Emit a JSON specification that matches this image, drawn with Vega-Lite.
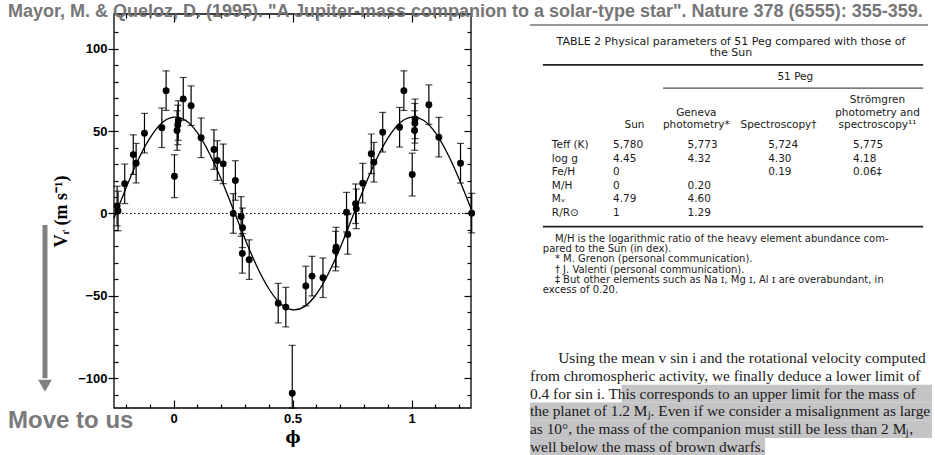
{
  "$schema": "https://vega.github.io/schema/vega-lite/v6.json",
  "autosize": {"type": "none"},
  "width": 821,
  "height": 441,
  "padding": {"left": 114, "top": 14, "right": 0, "bottom": 0},
  "background": "white",
  "title": {
    "text": "Mayor, M. & Queloz, D. (1995). \"A Jupiter-mass companion to a solar-type star\". Nature 378 (6555): 355-359.",
    "anchor": "start",
    "frame": "group",
    "font": "Liberation Sans",
    "fontWeight": "bold",
    "fontSize": 18,
    "color": "#767676",
    "dx": -106,
    "offset": -22,
    "baseline": "alphabetic"
  },
  "config": {
    "view": {"stroke": null},
    "axis": {"grid": false, "labelOverlap": false, "domain": false, "tickColor": "black", "tickWidth": 1.2},
    "font": "Liberation Sans"
  },
  "datasets": {
    "velocities": [
      {"phi": -0.237, "v": 4.5, "err": 12},
      {"phi": -0.233, "v": 1.5, "err": 12},
      {"phi": -0.205, "v": 18, "err": 12},
      {"phi": -0.169, "v": 35.7, "err": 12},
      {"phi": -0.157, "v": 30.5, "err": 12},
      {"phi": -0.122, "v": 48.7, "err": 12},
      {"phi": -0.049, "v": 52, "err": 12},
      {"phi": -0.031, "v": 74.5, "err": 12},
      {"phi": 0.004, "v": 22.6, "err": 13},
      {"phi": 0.015, "v": 50.3, "err": 12},
      {"phi": 0.018, "v": 53.7, "err": 12},
      {"phi": 0.02, "v": 56.4, "err": 12},
      {"phi": 0.041, "v": 69.5, "err": 13},
      {"phi": 0.074, "v": 65.4, "err": 12},
      {"phi": 0.116, "v": 45.9, "err": 12},
      {"phi": 0.17, "v": 38.8, "err": 12},
      {"phi": 0.184, "v": 32.1, "err": 12},
      {"phi": 0.209, "v": 30.1, "err": 12},
      {"phi": 0.251, "v": 0, "err": 12},
      {"phi": 0.26, "v": 20, "err": 12},
      {"phi": 0.284, "v": -1.8, "err": 12},
      {"phi": 0.29, "v": -8.7, "err": 12},
      {"phi": 0.289, "v": -24.2, "err": 12},
      {"phi": 0.318, "v": -28, "err": 12},
      {"phi": 0.44, "v": -54.4, "err": 12},
      {"phi": 0.472, "v": -56.8, "err": 12},
      {"phi": 0.499, "v": -109, "err": 29},
      {"phi": 0.556, "v": -44, "err": 12},
      {"phi": 0.582, "v": -38, "err": 12},
      {"phi": 0.628, "v": -39, "err": 12},
      {"phi": 0.681, "v": -22.8, "err": 12},
      {"phi": 0.683, "v": -20.4, "err": 12},
      {"phi": 0.727, "v": 0.8, "err": 12},
      {"phi": 0.732, "v": -12.7, "err": 12},
      {"phi": 0.765, "v": 5.9, "err": 12},
      {"phi": 0.768, "v": 2.8, "err": 12},
      {"phi": 0.795, "v": 18.4, "err": 12},
      {"phi": 0.831, "v": 36.2, "err": 12},
      {"phi": 0.842, "v": 31.1, "err": 12},
      {"phi": 0.879, "v": 49.3, "err": 12},
      {"phi": 0.95, "v": 52.3, "err": 12},
      {"phi": 0.968, "v": 74.5, "err": 12},
      {"phi": 1.003, "v": 23.6, "err": 13},
      {"phi": 1.013, "v": 50.3, "err": 12},
      {"phi": 1.014, "v": 54.7, "err": 12},
      {"phi": 1.015, "v": 57.4, "err": 12},
      {"phi": 1.073, "v": 66, "err": 12},
      {"phi": 1.115, "v": 46.3, "err": 12},
      {"phi": 1.206, "v": 30.5, "err": 12},
      {"phi": 1.253, "v": 0.2, "err": 12}
    ],
    "orbit": [
      {"phi": -0.25, "v": -2.9}, {"phi": -0.2, "v": 15.3}, {"phi": -0.15, "v": 32},
      {"phi": -0.1, "v": 45.5}, {"phi": -0.05, "v": 54.7}, {"phi": 0, "v": 58.4},
      {"phi": 0.05, "v": 56.5}, {"phi": 0.1, "v": 49}, {"phi": 0.15, "v": 36.7},
      {"phi": 0.2, "v": 20.9}, {"phi": 0.25, "v": 2.9}, {"phi": 0.3, "v": -15.3},
      {"phi": 0.35, "v": -32}, {"phi": 0.4, "v": -45.5}, {"phi": 0.45, "v": -54.7},
      {"phi": 0.5, "v": -58.4}, {"phi": 0.55, "v": -56.5}, {"phi": 0.6, "v": -49},
      {"phi": 0.65, "v": -36.7}, {"phi": 0.7, "v": -20.9}, {"phi": 0.75, "v": -2.9},
      {"phi": 0.8, "v": 15.3}, {"phi": 0.85, "v": 32}, {"phi": 0.9, "v": 45.5},
      {"phi": 0.95, "v": 54.7}, {"phi": 1, "v": 58.4}, {"phi": 1.05, "v": 56.5},
      {"phi": 1.1, "v": 49}, {"phi": 1.15, "v": 36.7}, {"phi": 1.2, "v": 20.9},
      {"phi": 1.25, "v": 2.9}
    ],
    "caption": [
      {"line": 1, "text": "TABLE 2  Physical parameters of 51 Peg compared with those of"},
      {"line": 2, "text": "the Sun"}
    ],
    "headers": [
      {"line": 1, "col": 4, "text": "Strömgren"},
      {"line": 2, "col": 2, "text": "Geneva"},
      {"line": 2, "col": 4, "text": "photometry and"},
      {"line": 3, "col": 1, "text": "Sun"},
      {"line": 3, "col": 2, "text": "photometry*"},
      {"line": 3, "col": 3, "text": "Spectroscopy†"},
      {"line": 3, "col": 4, "text": "spectroscopy¹¹"}
    ],
    "cells": [
      {"row": 1, "col": 0, "text": "Teff (K)"},
      {"row": 1, "col": 1, "text": "5,780"},
      {"row": 1, "col": 2, "text": "5,773"},
      {"row": 1, "col": 3, "text": "5,724"},
      {"row": 1, "col": 4, "text": "5,775"},
      {"row": 2, "col": 0, "text": "log g"},
      {"row": 2, "col": 1, "text": "4.45"},
      {"row": 2, "col": 2, "text": "4.32"},
      {"row": 2, "col": 3, "text": "4.30"},
      {"row": 2, "col": 4, "text": "4.18"},
      {"row": 3, "col": 0, "text": "Fe/H"},
      {"row": 3, "col": 1, "text": "0"},
      {"row": 3, "col": 3, "text": "0.19"},
      {"row": 3, "col": 4, "text": "0.06‡"},
      {"row": 4, "col": 0, "text": "M/H"},
      {"row": 4, "col": 1, "text": "0"},
      {"row": 4, "col": 2, "text": "0.20"},
      {"row": 5, "col": 0, "text": "Mᵥ"},
      {"row": 5, "col": 1, "text": "4.79"},
      {"row": 5, "col": 2, "text": "4.60"},
      {"row": 6, "col": 0, "text": "R/R⊙"},
      {"row": 6, "col": 1, "text": "1"},
      {"row": 6, "col": 2, "text": "1.29"}
    ],
    "notes": [
      {"line": 1, "first": true, "text": "M/H is the logarithmic ratio of the heavy element abundance com-"},
      {"line": 2, "first": false, "text": "pared to the Sun (in dex)."},
      {"line": 3, "first": true, "text": "* M. Grenon (personal communication)."},
      {"line": 4, "first": true, "text": "† J. Valenti (personal communication)."},
      {"line": 5, "first": true, "text": "‡ But other elements such as Na ɪ, Mg ɪ, Al ɪ are overabundant, in"},
      {"line": 6, "first": false, "text": "excess of 0.20."}
    ],
    "paragraph": [
      {"line": 1, "first": true, "text": "Using the mean v sin i and the rotational velocity computed"},
      {"line": 2, "first": false, "text": "from chromospheric activity, we finally deduce a lower limit of"},
      {"line": 3, "first": false, "text": "0.4 for sin i. This corresponds to an upper limit for the mass of"},
      {"line": 4, "first": false, "text": "the planet of 1.2 Mⱼ. Even if we consider a misalignment as large"},
      {"line": 5, "first": false, "text": "as 10°, the mass of the companion must still be less than 2 Mⱼ,"},
      {"line": 6, "first": false, "text": "well below the mass of brown dwarfs."}
    ],
    "highlight": [
      {"line": 3, "start": 0.228, "end": 1},
      {"line": 4, "start": 0, "end": 1},
      {"line": 5, "start": 0, "end": 1},
      {"line": 6, "start": 0, "end": 0.585}
    ]
  },
  "resolve": {"scale": {"x": "independent", "y": "independent"}, "axis": {"x": "independent", "y": "independent"}},
  "layer": [
    {
      "resolve": {"axis": {"x": "independent", "y": "independent"}},
      "layer": [
        {
          "data": {"name": "orbit"},
          "mark": {"type": "line", "color": "black", "strokeWidth": 1.3, "interpolate": "natural"},
          "encoding": {
            "x": {
              "field": "phi", "type": "quantitative",
              "scale": {"domain": [-0.25, 1.25], "range": [0, 357], "nice": false, "zero": false},
              "axis": {
                "orient": "bottom", "offset": -47,
                "values": [-0.2, -0.1, 0, 0.1, 0.2, 0.3, 0.4, 0.5, 0.6, 0.7, 0.8, 0.9, 1, 1.1, 1.2],
                "format": "~g",
                "labelExpr": "datum.value === 0 || datum.value === 0.5 || datum.value === 1 ? datum.label : ''",
                "tickSize": {"condition": {"test": "datum.value === 0 || datum.value === 0.5 || datum.value === 1", "value": -8}, "value": -4},
                "labelFont": "Liberation Sans", "labelFontWeight": "bold", "labelFontSize": 13, "labelColor": "black",
                "labelPadding": 12,
                "title": "ϕ", "titleFont": "DejaVu Serif", "titleFontWeight": "bold", "titleFontSize": 16,
                "titleColor": "black", "titlePadding": 0
              }
            },
            "y": {
              "field": "v", "type": "quantitative",
              "scale": {"domain": [-118, 121], "range": [394, 0], "nice": false, "zero": false, "clamp": true},
              "axis": {
                "orient": "left",
                "values": [-100, -50, 0, 50, 100],
                "tickSize": 6,
                "labelFont": "Liberation Sans", "labelFontWeight": "bold", "labelFontSize": 13, "labelColor": "black",
                "labelPadding": 1,
                "title": "Vᵣ (m s⁻¹)", "titleFont": "Liberation Serif", "titleFontWeight": "bold", "titleFontSize": 18,
                "titleColor": "black", "titlePadding": 7
              }
            }
          }
        },
        {
          "data": {"values": [{}]},
          "mark": {"type": "rect", "fill": "transparent", "stroke": "black", "strokeWidth": 1.3},
          "encoding": {
            "x": {"datum": -0.25, "type": "quantitative", "axis": null},
            "x2": {"datum": 1.25},
            "y": {"datum": -118, "type": "quantitative", "axis": null},
            "y2": {"datum": 121}
          }
        },
        {
          "data": {"values": [{}]},
          "mark": {"type": "rule", "color": "black", "strokeWidth": 1, "strokeDash": [1.5, 2.5]},
          "encoding": {
            "x": {"datum": -0.25, "type": "quantitative", "axis": null},
            "x2": {"datum": 1.25},
            "y": {"datum": 0, "type": "quantitative", "axis": null}
          }
        },
        {
          "data": {"name": "velocities"},
          "mark": {"type": "errorbar", "color": "black", "thickness": 1.2, "ticks": {"size": 7, "thickness": 1.2}},
          "encoding": {
            "x": {
              "field": "phi", "type": "quantitative",
              "axis": {
                "orient": "top",
                "values": [-0.2, -0.1, 0, 0.1, 0.2, 0.3, 0.4, 0.5, 0.6, 0.7, 0.8, 0.9, 1, 1.1, 1.2],
                "labels": false, "title": null,
                "tickSize": {"condition": {"test": "datum.value === 0 || datum.value === 0.5 || datum.value === 1", "value": -8}, "value": -4}
              }
            },
            "y": {
              "field": "v", "type": "quantitative",
              "axis": {
                "orient": "right", "offset": -464,
                "values": [-110, -100, -90, -80, -70, -60, -50, -40, -30, -20, -10, 0, 10, 20, 30, 40, 50, 60, 70, 80, 90, 100, 110],
                "labels": false, "title": null,
                "tickSize": {"condition": {"test": "datum.value % 50 === 0", "value": -7}, "value": -4}
              }
            },
            "yError": {"field": "err"}
          }
        },
        {
          "data": {"name": "velocities"},
          "mark": {"type": "circle", "color": "black", "opacity": 1, "size": 48},
          "encoding": {
            "x": {"field": "phi", "type": "quantitative", "axis": null},
            "y": {
              "field": "v", "type": "quantitative",
              "axis": {
                "orient": "left",
                "values": [-110, -100, -90, -80, -70, -60, -50, -40, -30, -20, -10, 0, 10, 20, 30, 40, 50, 60, 70, 80, 90, 100, 110],
                "labels": false, "title": null, "tickSize": -4
              }
            }
          }
        },
        {
          "data": {"values": [{}]},
          "mark": {"type": "rule", "color": "#808080", "strokeWidth": 5},
          "encoding": {
            "x": {"datum": -0.54, "type": "quantitative", "axis": null},
            "y": {"datum": -7, "type": "quantitative", "axis": null},
            "y2": {"datum": -100}
          }
        },
        {
          "data": {"values": [{}]},
          "mark": {"type": "point", "shape": "triangle-down", "filled": true, "color": "#808080", "opacity": 1, "size": 190},
          "encoding": {
            "x": {"datum": -0.54, "type": "quantitative", "axis": null},
            "y": {"datum": -104.5, "type": "quantitative", "axis": null}
          }
        }
      ]
    },
    {
      "data": {"values": [{}]},
      "mark": {"type": "text", "text": "Move to us", "font": "Liberation Sans", "fontWeight": "bold", "fontSize": 24, "color": "#7a7a7a", "align": "left", "baseline": "middle"},
      "encoding": {
        "x": {"datum": -0.695, "type": "quantitative", "scale": {"domain": [-0.25, 1.25], "range": [0, 357], "nice": false, "zero": false}, "axis": null},
        "y": {"datum": -125.7, "type": "quantitative", "scale": {"domain": [-118, 121], "range": [394, 0], "nice": false, "zero": false}, "axis": null}
      }
    },
    {
      "resolve": {"scale": {"x": "independent", "y": "independent"}},
      "layer": [
        {
          "data": {"name": "highlight"},
          "mark": {"type": "rect", "color": "#c4c4c6", "opacity": 1},
          "encoding": {
            "x": {"field": "start", "type": "quantitative", "scale": {"domain": [0, 1], "range": [416, 818], "nice": false, "zero": false}, "axis": null},
            "x2": {"field": "end"},
            "y": {"field": "line", "type": "ordinal", "scale": {"type": "band", "domain": [1, 2, 3, 4, 5, 6], "range": [335.1, 441.9], "paddingInner": 0, "paddingOuter": 0}, "axis": null}
          }
        },
        {
          "data": {"name": "paragraph"},
          "transform": [{"filter": "datum.first"}],
          "mark": {"type": "text", "font": "Liberation Serif", "fontSize": 15.4, "color": "#1a1a1a", "align": "left", "baseline": "middle"},
          "encoding": {
            "x": {"datum": 0.07, "type": "quantitative", "scale": {"domain": [0, 1], "range": [416, 818], "nice": false, "zero": false}, "axis": null},
            "y": {"field": "line", "type": "ordinal", "bandPosition": 0.5, "scale": {"type": "band", "domain": [1, 2, 3, 4, 5, 6], "range": [335.1, 441.9], "paddingInner": 0, "paddingOuter": 0}, "axis": null},
            "text": {"field": "text"}
          }
        },
        {
          "data": {"name": "paragraph"},
          "transform": [{"filter": "!datum.first"}],
          "mark": {"type": "text", "font": "Liberation Serif", "fontSize": 15.4, "color": "#1a1a1a", "align": "left", "baseline": "middle"},
          "encoding": {
            "x": {"datum": 0, "type": "quantitative", "scale": {"domain": [0, 1], "range": [416, 818], "nice": false, "zero": false}, "axis": null},
            "y": {"field": "line", "type": "ordinal", "bandPosition": 0.5, "scale": {"type": "band", "domain": [1, 2, 3, 4, 5, 6], "range": [335.1, 441.9], "paddingInner": 0, "paddingOuter": 0}, "axis": null},
            "text": {"field": "text"}
          }
        },
        {
          "data": {"name": "caption"},
          "mark": {"type": "text", "font": "DejaVu Sans", "fontSize": 11, "color": "#1a1a1a", "align": "center", "baseline": "middle"},
          "encoding": {
            "x": {"datum": 0.5, "type": "quantitative", "scale": {"domain": [0, 1], "range": [416, 818], "nice": false, "zero": false}, "axis": null},
            "y": {"field": "line", "type": "quantitative", "scale": {"domain": [1, 2], "range": [27.7, 39.3], "nice": false, "zero": false}, "axis": null},
            "text": {"field": "text"}
          }
        },
        {
          "data": {"values": [{}]},
          "mark": {"type": "text", "text": "51 Peg", "font": "DejaVu Sans", "fontSize": 10.5, "color": "#1a1a1a", "align": "center", "baseline": "middle"},
          "encoding": {
            "x": {"datum": 0.66, "type": "quantitative", "scale": {"domain": [0, 1], "range": [416, 818], "nice": false, "zero": false}, "axis": null},
            "y": {"datum": 4, "type": "quantitative", "scale": {"domain": [1, 2], "range": [27.7, 39.3], "nice": false, "zero": false}, "axis": null}
          }
        },
        {
          "data": {"values": [{}]},
          "mark": {"type": "rule", "color": "#222222", "strokeWidth": 1.8},
          "encoding": {
            "x": {"datum": 0.032, "type": "quantitative", "scale": {"domain": [0, 1], "range": [416, 818], "nice": false, "zero": false}, "axis": null},
            "x2": {"datum": 0.978},
            "y": {"datum": 3, "type": "quantitative", "scale": {"domain": [1, 2], "range": [27.7, 39.3], "nice": false, "zero": false}, "axis": null}
          }
        },
        {
          "data": {"values": [{}]},
          "mark": {"type": "rule", "color": "#222222", "strokeWidth": 1},
          "encoding": {
            "x": {"datum": 0.331, "type": "quantitative", "scale": {"domain": [0, 1], "range": [416, 818], "nice": false, "zero": false}, "axis": null},
            "x2": {"datum": 0.978},
            "y": {"datum": 5, "type": "quantitative", "scale": {"domain": [1, 2], "range": [27.7, 39.3], "nice": false, "zero": false}, "axis": null}
          }
        },
        {
          "data": {"values": [{}]},
          "mark": {"type": "rule", "color": "#767676", "strokeWidth": 1.6},
          "encoding": {
            "x": {"datum": 0, "type": "quantitative", "scale": {"domain": [0, 1], "range": [416, 818], "nice": false, "zero": false}, "axis": null},
            "x2": {"datum": 0.99},
            "y": {"datum": -0.44, "type": "quantitative", "scale": {"domain": [1, 2], "range": [27.7, 39.3], "nice": false, "zero": false}, "axis": null}
          }
        },
        {
          "data": {"values": [{}]},
          "mark": {"type": "rule", "color": "#222222", "strokeWidth": 1.8},
          "encoding": {
            "x": {"datum": 0.032, "type": "quantitative", "scale": {"domain": [0, 1], "range": [416, 818], "nice": false, "zero": false}, "axis": null},
            "x2": {"datum": 0.978},
            "y": {"datum": 7, "type": "quantitative", "scale": {"domain": [1, 6], "range": [131, 199], "nice": false, "zero": false}, "axis": null}
          }
        },
        {
          "data": {"name": "headers"},
          "mark": {"type": "text", "font": "DejaVu Sans", "fontSize": 10.5, "color": "#1a1a1a", "align": "center", "baseline": "middle"},
          "encoding": {
            "x": {"field": "col", "type": "quantitative", "scale": {"type": "pow", "exponent": 1.55, "domain": [1, 4], "range": [520.5, 763.5], "nice": false, "zero": false}, "axis": null},
            "y": {"field": "line", "type": "quantitative", "scale": {"domain": [1, 3], "range": [86, 111], "nice": false, "zero": false}, "axis": null},
            "text": {"field": "text"}
          }
        },
        {
          "data": {"name": "cells"},
          "mark": {"type": "text", "font": "DejaVu Sans", "fontSize": 10.5, "color": "#1a1a1a", "align": "left", "baseline": "middle"},
          "encoding": {
            "x": {"field": "col", "type": "quantitative", "scale": {"type": "pow", "exponent": 1.15, "domain": [1, 4], "range": [499, 739], "nice": false, "zero": false}, "axis": null},
            "y": {"field": "row", "type": "quantitative", "scale": {"domain": [1, 6], "range": [131, 199], "nice": false, "zero": false}, "axis": null},
            "text": {"field": "text"}
          }
        },
        {
          "data": {"name": "notes"},
          "transform": [{"filter": "datum.first"}],
          "mark": {"type": "text", "font": "DejaVu Sans", "fontSize": 10, "color": "#1a1a1a", "align": "left", "baseline": "middle"},
          "encoding": {
            "x": {"datum": 0.062, "type": "quantitative", "scale": {"domain": [0, 1], "range": [416, 818], "nice": false, "zero": false}, "axis": null},
            "y": {"field": "line", "type": "quantitative", "scale": {"domain": [1, 6], "range": [225, 276], "nice": false, "zero": false}, "axis": null},
            "text": {"field": "text"}
          }
        },
        {
          "data": {"name": "notes"},
          "transform": [{"filter": "!datum.first"}],
          "mark": {"type": "text", "font": "DejaVu Sans", "fontSize": 10, "color": "#1a1a1a", "align": "left", "baseline": "middle"},
          "encoding": {
            "x": {"datum": 0.032, "type": "quantitative", "scale": {"domain": [0, 1], "range": [416, 818], "nice": false, "zero": false}, "axis": null},
            "y": {"field": "line", "type": "quantitative", "scale": {"domain": [1, 6], "range": [225, 276], "nice": false, "zero": false}, "axis": null},
            "text": {"field": "text"}
          }
        }
      ]
    }
  ]
}
